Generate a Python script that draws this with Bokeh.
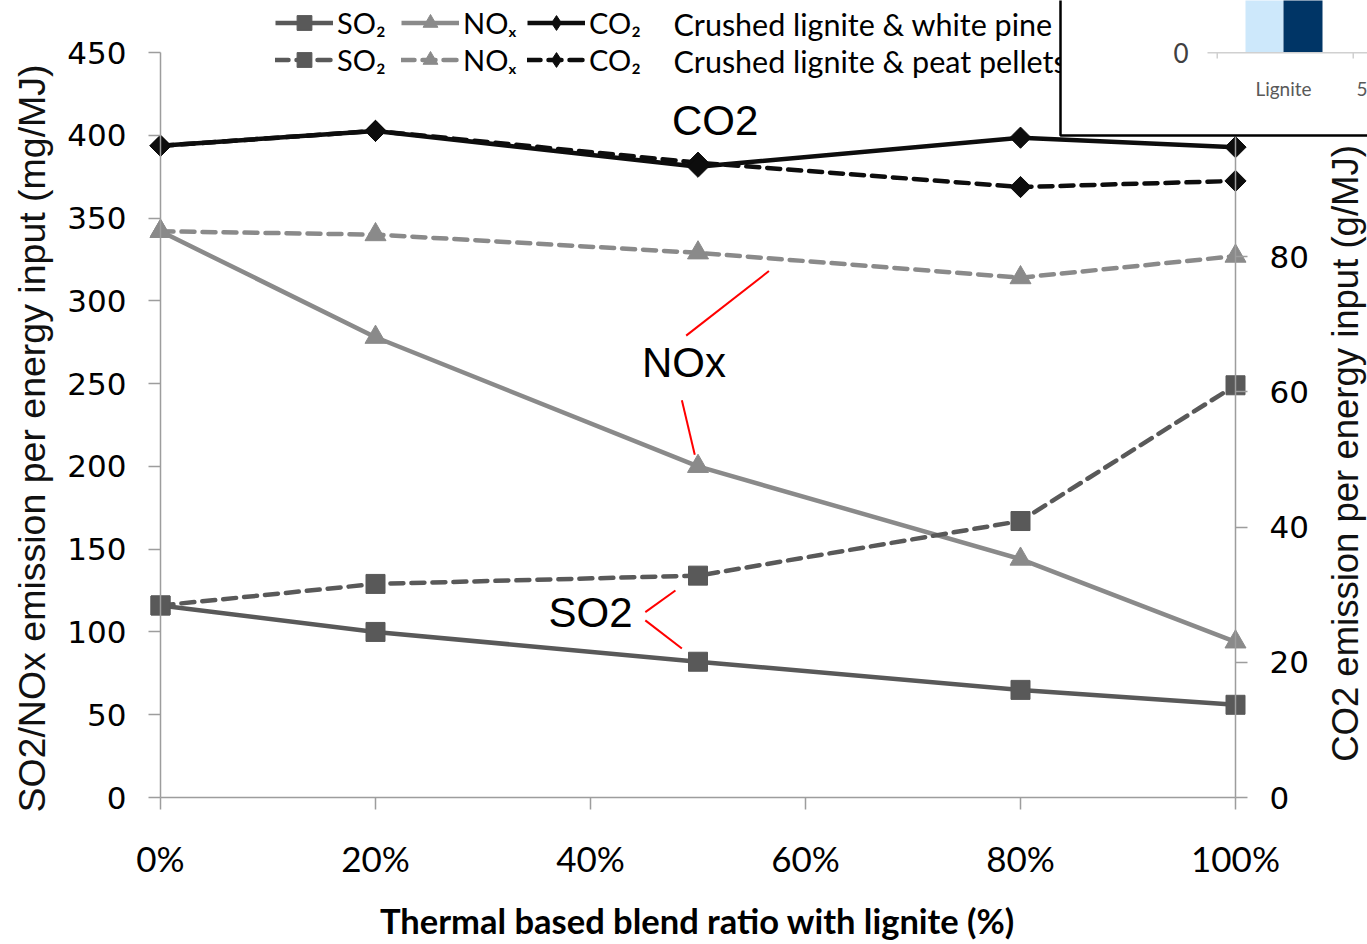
import math
from bokeh.plotting import figure
from bokeh.models import (Range1d, LinearAxis, FixedTicker, Legend, LegendItem,
                          Label, BoxAnnotation)
from bokeh.embed import file_html
from bokeh.resources import INLINE

# ---------------- data ----------------
blend = [0, 20, 50, 80, 100]                      # % lignite (thermal basis)
so2_pine = [116, 100, 82, 65, 56]                 # mg/MJ
nox_pine = [342, 278, 200, 144, 94]               # mg/MJ
co2_pine = [96.4, 98.6, 93.3, 97.6, 96.2]         # g/MJ
so2_peat = [116, 129, 134, 167, 249]              # mg/MJ
nox_peat = [342, 340, 329, 314, 327]              # mg/MJ
co2_peat = [96.4, 98.6, 93.9, 90.3, 91.2]         # g/MJ

x_ticks = [0, 20, 40, 60, 80, 100]
x_tick_labels = ["0%", "20%", "40%", "60%", "80%", "100%"]
left_ticks = [0, 50, 100, 150, 200, 250, 300, 350, 400, 450]
right_ticks = [0, 20, 40, 60, 80, 100]

x_title = "Thermal based blend ratio with lignite (%)"
left_title = "SO2/NOx emission per energy input (mg/MJ)"
right_title = "CO2 emission per energy input (g/MJ)"
legend_labels = ["SO\u2082", "NO\u2093", "CO\u2082"]
series_names = ["Crushed lignite & white pine", "Crushed lignite & peat pellets"]

# annotation texts (data coordinates on the left axis)
ann_text = ["CO2", "NOx", "SO2"]
ann_x = [51.6, 48.7, 40.0]
ann_y = [409, 263, 112]
# red leader lines
lead_x0 = [48.9, 48.5, 45.1, 45.1]
lead_y0 = [279, 240, 112, 107]
lead_x1 = [56.6, 49.7, 47.9, 48.5]
lead_y1 = [318, 207, 125, 90]

# ---------------- layout constants ----------------
W, H = 1367, 944
X0_PX, X100_PX = 160, 1235          # canvas x of 0 % and 100 %
Y0_PX, YTOP_PX = 797, 52            # canvas y of 0 and of the axis top
L_MAX, R_MAX = 450, 110.2           # left / right axis maxima

xs = (X100_PX - X0_PX) / 100.0
ys = (Y0_PX - YTOP_PX) / L_MAX
x_start, x_end = -X0_PX / xs, 100 + (W - X100_PX) / xs
y_start, y_end = -(H - Y0_PX) / ys, L_MAX + YTOP_PX / ys
rf = R_MAX / L_MAX

SO2_C = "#595959"
NOX_C = "#8a8a8a"
CO2_C = "#0d0d0d"
AXIS_C = "#9d9d9d"

p = figure(width=W, height=H, x_range=Range1d(x_start, x_end), y_range=Range1d(y_start, y_end),
           output_backend="svg", toolbar_location=None, min_border=0)
p.extra_y_ranges = {"co2": Range1d(y_start * rf, y_end * rf)}
p.xgrid.visible = False
p.ygrid.visible = False
p.outline_line_color = None
p.background_fill_color = "white"
p.border_fill_color = "white"

def style_axis(ax):
    ax.axis_line_color = AXIS_C
    ax.axis_line_width = 1.5
    ax.major_tick_line_color = AXIS_C
    ax.major_tick_line_width = 1.5
    ax.major_tick_in = 0
    ax.major_tick_out = 12
    ax.minor_tick_line_color = None
    ax.major_label_text_color = "black"

xa = p.xaxis[0]
style_axis(xa)
xa.fixed_location = 0
xa.bounds = (0, 100)
xa.ticker = FixedTicker(ticks=x_ticks)
xa.major_label_overrides = {t: l for t, l in zip(x_ticks, x_tick_labels)}
xa.major_label_text_font = "Lato"
xa.major_label_text_font_size = "35px"
xa.major_label_standoff = 27

ya = p.yaxis[0]
style_axis(ya)
ya.fixed_location = 0
ya.bounds = (0, L_MAX)
ya.ticker = FixedTicker(ticks=left_ticks)
ya.major_label_text_font = "DejaVu Sans"
ya.major_label_text_font_size = "31px"
ya.major_label_standoff = 22

ra = LinearAxis(y_range_name="co2")
style_axis(ra)
ra.fixed_location = 100
ra.bounds = (0, R_MAX)
ra.ticker = FixedTicker(ticks=right_ticks)
ra.major_label_text_font = "DejaVu Sans"
ra.major_label_text_font_size = "31px"
ra.major_label_standoff = 22
p.add_layout(ra, "right")

# axis titles
p.add_layout(Label(x=697, y=920, x_units="canvas", y_units="canvas", text=x_title,
                   text_font="Lato", text_font_style="bold", text_font_size="34.5px",
                   text_align="center", text_baseline="middle", text_color="black"))
p.add_layout(Label(x=31, y=438, x_units="canvas", y_units="canvas", text=left_title,
                   angle=math.pi / 2, text_font="Liberation Sans", text_font_size="37.5px",
                   text_align="center", text_baseline="middle", text_color="#111111"))
p.add_layout(Label(x=1345, y=453, x_units="canvas", y_units="canvas", text=right_title,
                   angle=math.pi / 2, text_font="Liberation Sans", text_font_size="36.5px",
                   text_align="center", text_baseline="middle", text_color="#111111"))

# ---------------- series ----------------
LW = 4.5
DASH = "13 8"
DIAM = dict(marker="square", size=15, angle=math.pi / 4)
r_so2_pine_l = p.line(blend, so2_pine, line_color=SO2_C, line_width=LW)
r_so2_pine_m = p.scatter(blend, so2_pine, marker="square", size=19, color=SO2_C)
r_nox_pine_l = p.line(blend, nox_pine, line_color=NOX_C, line_width=LW)
r_nox_pine_m = p.scatter(blend, nox_pine, marker="triangle", size=21, color=NOX_C)
r_so2_peat_l = p.line(blend, so2_peat, line_color=SO2_C, line_width=LW, line_dash=DASH, line_cap="round")
r_so2_peat_m = p.scatter(blend, so2_peat, marker="square", size=19, color=SO2_C)
r_nox_peat_l = p.line(blend, nox_peat, line_color=NOX_C, line_width=LW, line_dash=DASH, line_cap="round")
r_nox_peat_m = p.scatter(blend, nox_peat, marker="triangle", size=21, color=NOX_C)
r_co2_peat_l = p.line(blend, co2_peat, line_color=CO2_C, line_width=LW, line_dash=DASH, line_cap="round",
                      y_range_name="co2")
r_co2_peat_m = p.scatter(blend, co2_peat, color=CO2_C, y_range_name="co2", **DIAM)
r_co2_pine_l = p.line(blend, co2_pine, line_color=CO2_C, line_width=LW, y_range_name="co2")
r_co2_pine_m = p.scatter(blend, co2_pine, color=CO2_C, y_range_name="co2", **DIAM)
# legend-only diamond swatch (no visible points)
r_co2_key = p.scatter(blend, [float("nan")] * len(blend), marker="diamond", size=20,
                      color=CO2_C, y_range_name="co2")

# red leader lines and in-plot labels
p.segment(x0=lead_x0, y0=lead_y0, x1=lead_x1, y1=lead_y1, line_color="red", line_width=2)
for t, x, y in zip(ann_text, ann_x, ann_y):
    p.add_layout(Label(x=x, y=y, text=t, text_font="Liberation Sans", text_font_size="42px",
                       text_align="center", text_baseline="middle", text_color="black"))

# ---------------- legend ----------------
items = [
    LegendItem(label=legend_labels[0], renderers=[r_so2_pine_l, r_so2_pine_m]),
    LegendItem(label=legend_labels[1], renderers=[r_nox_pine_l, r_nox_pine_m]),
    LegendItem(label=legend_labels[2], renderers=[r_co2_pine_l, r_co2_key]),
    LegendItem(label=legend_labels[0], renderers=[r_so2_peat_l, r_so2_peat_m]),
    LegendItem(label=legend_labels[1], renderers=[r_nox_peat_l, r_nox_peat_m]),
    LegendItem(label=legend_labels[2], renderers=[r_co2_peat_l, r_co2_key]),
]
leg = Legend(items=items, orientation="horizontal", ncols=3,
             location=(275, H - 78), glyph_width=58, glyph_height=37,
             label_standoff=4, label_width=64, spacing=0, padding=0, margin=0,
             border_line_color=None, background_fill_alpha=0,
             label_text_font="Lato", label_text_font_size="29px", label_text_color="black")
p.add_layout(leg)

for i, name in enumerate(series_names):
    p.add_layout(Label(x=673, y=23 + 37 * i, x_units="canvas", y_units="canvas", text=name,
                       text_font="Lato", text_font_size="30.5px", text_baseline="middle",
                       text_color="black"))

# ---------------- overlapping inset fragment (top-right) ----------------
def cbox(l, r, t, b, **kw):
    return BoxAnnotation(left=l, right=r, top=t, bottom=b,
                         left_units="canvas", right_units="canvas",
                         top_units="canvas", bottom_units="canvas",
                         fill_alpha=1, line_alpha=1, level="overlay", **kw)

p.add_layout(cbox(1060, 1400, -10, 135, fill_color="white", line_color="black", line_width=2.5))
inset_bars = [("#cde8fb", 1245, 1283), ("#003566", 1283, 1322)]
for col, l, r in inset_bars:
    p.add_layout(cbox(l, r, -2, 52, fill_color=col, line_color=None))
p.add_layout(cbox(1207, 1370, 51.5, 53, fill_color="#d0d0d0", line_color=None))
for tx in [1216, 1352]:
    p.add_layout(cbox(tx, tx + 1.5, 52, 58, fill_color="#d0d0d0", line_color=None))
for t, x, y, al in [("0", 1188, 52, "right"), ("Lignite", 1283, 88, "center"), ("5", 1356, 88, "left")]:
    p.add_layout(Label(x=x, y=y, x_units="canvas", y_units="canvas", text=t,
                       text_font="Lato", text_font_size=("26px" if t == "0" else "19px"),
                       text_align=al, text_baseline="middle",
                       text_color=("#404040" if t == "0" else "#595959"), level="overlay"))

open("out.html", "w").write(file_html(p, INLINE))
